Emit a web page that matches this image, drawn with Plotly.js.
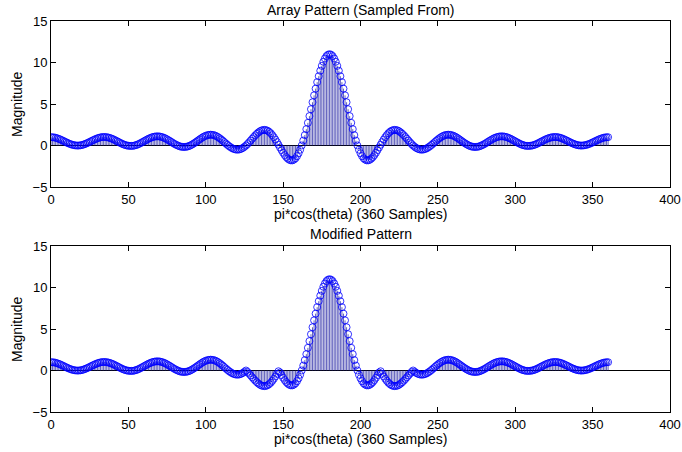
<!DOCTYPE html>
<html><head><meta charset="utf-8">
<script src="https://cdn.plot.ly/plotly-3.0.1.min.js"></script>
<style>html,body{margin:0;padding:0;background:#fff;}#chart{width:682px;height:452px;}</style>
</head><body><div id="chart"></div>
<script>
// Sample values (k = 0 .. 360)
const arrayPattern = [
1.00,0.99,0.97,0.93,0.87,0.80,0.73,0.64,0.55,0.46,
0.37,0.28,0.20,0.13,0.08,0.03,0.01,-0.01,0.00,0.02,
0.06,0.11,0.18,0.26,0.34,0.43,0.53,0.62,0.71,0.79,
0.87,0.93,0.98,1.01,1.02,1.02,1.00,0.96,0.91,0.84,
0.77,0.68,0.58,0.49,0.39,0.29,0.20,0.12,0.06,0.00,
-0.03,-0.05,-0.05,-0.04,0.00,0.05,0.12,0.20,0.30,0.40,
0.50,0.61,0.71,0.81,0.89,0.97,1.03,1.07,1.10,1.10,
1.09,1.05,1.00,0.93,0.84,0.74,0.63,0.52,0.40,0.28,
0.17,0.07,-0.01,-0.09,-0.14,-0.17,-0.18,-0.17,-0.13,-0.08,
0.00,0.10,0.21,0.33,0.46,0.60,0.73,0.86,0.98,1.09,
1.17,1.24,1.28,1.30,1.29,1.26,1.20,1.11,1.00,0.87,
0.73,0.57,0.41,0.24,0.08,-0.07,-0.20,-0.32,-0.41,-0.47,
-0.50,-0.50,-0.46,-0.39,-0.29,-0.16,0.00,0.18,0.38,0.59,
0.81,1.02,1.22,1.41,1.57,1.71,1.81,1.86,1.88,1.85,
1.77,1.64,1.47,1.25,1.00,0.72,0.41,0.09,-0.24,-0.56,
-0.87,-1.15,-1.39,-1.58,-1.72,-1.79,-1.79,-1.70,-1.54,-1.28,
-0.94,-0.51,0.00,0.59,1.25,1.97,2.73,3.54,4.37,5.21,
6.04,6.85,7.63,8.35,9.01,9.59,10.09,10.48,10.77,10.94,
11.00,
10.94,10.77,10.48,10.09,9.59,9.01,8.35,7.63,6.85,6.04,
5.21,4.37,3.54,2.73,1.97,1.25,0.59,0.00,-0.51,-0.94,
-1.28,-1.54,-1.70,-1.79,-1.79,-1.72,-1.58,-1.39,-1.15,-0.87,
-0.56,-0.24,0.09,0.41,0.72,1.00,1.25,1.47,1.64,1.77,
1.85,1.88,1.86,1.81,1.71,1.57,1.41,1.22,1.02,0.81,
0.59,0.38,0.18,0.00,-0.16,-0.29,-0.39,-0.46,-0.50,-0.50,
-0.47,-0.41,-0.32,-0.20,-0.07,0.08,0.24,0.41,0.57,0.73,
0.87,1.00,1.11,1.20,1.26,1.29,1.30,1.28,1.24,1.17,
1.09,0.98,0.86,0.73,0.60,0.46,0.33,0.21,0.10,0.00,
-0.08,-0.13,-0.17,-0.18,-0.17,-0.14,-0.09,-0.01,0.07,0.17,
0.28,0.40,0.52,0.63,0.74,0.84,0.93,1.00,1.05,1.09,
1.10,1.10,1.07,1.03,0.97,0.89,0.81,0.71,0.61,0.50,
0.40,0.30,0.20,0.12,0.05,0.00,-0.04,-0.05,-0.05,-0.03,
0.00,0.06,0.12,0.20,0.29,0.39,0.49,0.58,0.68,0.77,
0.84,0.91,0.96,1.00,1.02,1.02,1.01,0.98,0.93,0.87,
0.79,0.71,0.62,0.53,0.43,0.34,0.26,0.18,0.11,0.06,
0.02,0.00,-0.01,0.01,0.03,0.08,0.13,0.20,0.28,0.37,
0.46,0.55,0.64,0.73,0.80,0.87,0.93,0.97,0.99,1.00
];
const modifiedPattern = [
1.00,0.99,0.97,0.93,0.87,0.80,0.73,0.64,0.55,0.46,
0.37,0.28,0.20,0.13,0.08,0.03,0.01,-0.01,0.00,0.02,
0.06,0.11,0.18,0.26,0.34,0.43,0.53,0.62,0.71,0.79,
0.87,0.93,0.98,1.01,1.02,1.02,1.00,0.96,0.91,0.84,
0.77,0.68,0.58,0.49,0.39,0.29,0.20,0.12,0.06,0.00,
-0.03,-0.05,-0.05,-0.04,0.00,0.05,0.12,0.20,0.30,0.40,
0.50,0.61,0.71,0.81,0.89,0.97,1.03,1.07,1.10,1.10,
1.09,1.05,1.00,0.93,0.84,0.74,0.63,0.52,0.40,0.28,
0.17,0.07,-0.01,-0.09,-0.14,-0.17,-0.18,-0.17,-0.13,-0.08,
0.00,0.10,0.21,0.33,0.46,0.60,0.73,0.86,0.98,1.09,
1.17,1.24,1.28,1.30,1.29,1.26,1.20,1.11,1.00,0.87,
0.73,0.57,0.41,0.24,0.08,-0.07,-0.20,-0.32,-0.41,-0.47,
-0.50,-0.50,-0.46,-0.39,-0.29,-0.16,0.00,-0.18,-0.38,-0.59,
-0.81,-1.02,-1.22,-1.41,-1.57,-1.71,-1.81,-1.86,-1.88,-1.85,
-1.77,-1.64,-1.47,-1.25,-1.00,-0.72,-0.41,-0.09,-0.24,-0.56,
-0.87,-1.15,-1.39,-1.58,-1.72,-1.79,-1.79,-1.70,-1.54,-1.28,
-0.94,-0.51,0.00,0.59,1.25,1.97,2.73,3.54,4.37,5.21,
6.04,6.85,7.63,8.35,9.01,9.59,10.09,10.48,10.77,10.94,
11.00,
10.94,10.77,10.48,10.09,9.59,9.01,8.35,7.63,6.85,6.04,
5.21,4.37,3.54,2.73,1.97,1.25,0.59,0.00,-0.51,-0.94,
-1.28,-1.54,-1.70,-1.79,-1.79,-1.72,-1.58,-1.39,-1.15,-0.87,
-0.56,-0.24,-0.09,-0.41,-0.72,-1.00,-1.25,-1.47,-1.64,-1.77,
-1.85,-1.88,-1.86,-1.81,-1.71,-1.57,-1.41,-1.22,-1.02,-0.81,
-0.59,-0.38,-0.18,0.00,-0.16,-0.29,-0.39,-0.46,-0.50,-0.50,
-0.47,-0.41,-0.32,-0.20,-0.07,0.08,0.24,0.41,0.57,0.73,
0.87,1.00,1.11,1.20,1.26,1.29,1.30,1.28,1.24,1.17,
1.09,0.98,0.86,0.73,0.60,0.46,0.33,0.21,0.10,0.00,
-0.08,-0.13,-0.17,-0.18,-0.17,-0.14,-0.09,-0.01,0.07,0.17,
0.28,0.40,0.52,0.63,0.74,0.84,0.93,1.00,1.05,1.09,
1.10,1.10,1.07,1.03,0.97,0.89,0.81,0.71,0.61,0.50,
0.40,0.30,0.20,0.12,0.05,0.00,-0.04,-0.05,-0.05,-0.03,
0.00,0.06,0.12,0.20,0.29,0.39,0.49,0.58,0.68,0.77,
0.84,0.91,0.96,1.00,1.02,1.02,1.01,0.98,0.93,0.87,
0.79,0.71,0.62,0.53,0.43,0.34,0.26,0.18,0.11,0.06,
0.02,0.00,-0.01,0.01,0.03,0.08,0.13,0.20,0.28,0.37,
0.46,0.55,0.64,0.73,0.80,0.87,0.93,0.97,0.99,1.00
];
const xTickVals = [0,50,100,150,200,250,300,350,400];
const yTickVals = [-5,0,5,10,15];
const panelTitles = ["Array Pattern (Sampled From)", "Modified Pattern"];
const xLabel = "pi*cos(theta) (360 Samples)";
const yLabel = "Magnitude";

const FONT = "Liberation Sans, Arial, Helvetica, sans-serif";
const FS = 14;    // titles / axis labels
const TFS = 13;   // tick labels
const BLUE = "rgb(0,0,255)";

function stemTrace(vals, xa, ya) {
  const x = [], y = [];
  vals.forEach((v, i) => { x.push(i, i, null); y.push(0, v, null); });
  return {x, y, xaxis: xa, yaxis: ya, type: 'scatter', mode: 'lines',
    line: {color: 'rgb(30,30,160)', width: 0.7}, hoverinfo: 'skip', showlegend: false};
}
function markerTrace(vals, xa, ya) {
  return {x: vals.map((_, i) => i), y: vals, xaxis: xa, yaxis: ya, type: 'scatter', mode: 'markers',
    marker: {symbol: 'circle-open', size: 7, color: BLUE, line: {color: BLUE, width: 0.8}}, showlegend: false};
}

const data = [
  stemTrace(arrayPattern, 'x', 'y'), markerTrace(arrayPattern, 'x', 'y'),
  stemTrace(modifiedPattern, 'x2', 'y2'), markerTrace(modifiedPattern, 'x2', 'y2')
];

// plot area pixels: x 51..670, y 21..412
const L = 51, R = 670, T = 21, B = 412;
const px = v => (v - L) / (R - L);
const py = v => (B - v) / (B - T);

function xax(anchor) {
  return {anchor, range: [0, 400], tickvals: xTickVals, ticks: 'inside', ticklen: 5, tickwidth: 1,
    tickcolor: '#000', showline: true, linecolor: '#000', linewidth: 1, mirror: 'ticks',
    showgrid: false, zeroline: false, tickfont: {family: FONT, size: TFS, color: '#000'}, fixedrange: true};
}
function yax(anchor, domain) {
  return {anchor, domain, range: [-5, 15], tickvals: yTickVals, ticks: 'inside', ticklen: 5, tickwidth: 1,
    tickcolor: '#000', showline: true, linecolor: '#000', linewidth: 1, mirror: 'ticks',
    showgrid: false, zeroline: true, zerolinecolor: '#000', zerolinewidth: 1,
    tickfont: {family: FONT, size: TFS, color: '#000'}, fixedrange: true};
}

const topBottom = 187, botTop = 246;
const layout = {
  width: 682, height: 452,
  margin: {l: L, r: 682 - R, t: T, b: 452 - B, pad: 0},
  paper_bgcolor: '#fff', plot_bgcolor: '#fff',
  xaxis: xax('y'), yaxis: yax('x', [py(topBottom), 1]),
  xaxis2: xax('y2'), yaxis2: yax('x2', [0, py(botTop)]),
  annotations: [
    {text: panelTitles[0], xref: 'paper', yref: 'paper', x: 0.5, y: py(10), xanchor: 'center', yanchor: 'middle', showarrow: false, font: {family: FONT, size: FS, color: '#000'}},
    {text: xLabel, xref: 'paper', yref: 'paper', x: 0.5, y: py(214), xanchor: 'center', yanchor: 'middle', showarrow: false, font: {family: FONT, size: FS, color: '#000'}},
    {text: yLabel, xref: 'paper', yref: 'paper', x: px(17), y: py(104), xanchor: 'center', yanchor: 'middle', textangle: -90, showarrow: false, font: {family: FONT, size: FS, color: '#000'}},
    {text: panelTitles[1], xref: 'paper', yref: 'paper', x: 0.5, y: py(234), xanchor: 'center', yanchor: 'middle', showarrow: false, font: {family: FONT, size: FS, color: '#000'}},
    {text: xLabel, xref: 'paper', yref: 'paper', x: 0.5, y: py(439), xanchor: 'center', yanchor: 'middle', showarrow: false, font: {family: FONT, size: FS, color: '#000'}},
    {text: yLabel, xref: 'paper', yref: 'paper', x: px(17), y: py((botTop + B) / 2), xanchor: 'center', yanchor: 'middle', textangle: -90, showarrow: false, font: {family: FONT, size: FS, color: '#000'}}
  ]
};

Plotly.newPlot('chart', data, layout, {displayModeBar: false, staticPlot: true});
</script>
</body></html>
